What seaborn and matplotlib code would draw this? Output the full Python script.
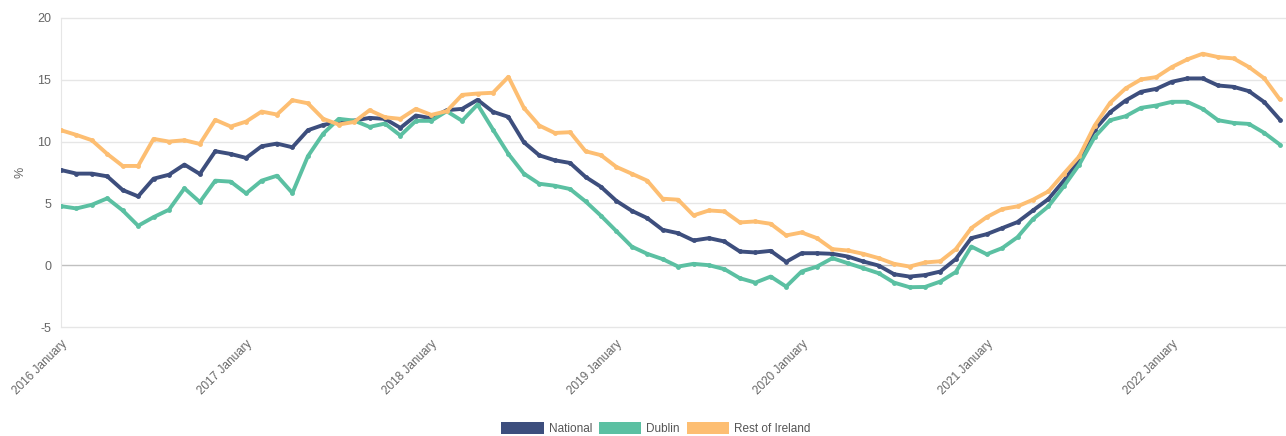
import seaborn as sns
import pandas as pd
import numpy as np
import matplotlib.pyplot as plt
from matplotlib.patches import Patch

# monthly values, Jan 2016 - Aug 2022 (%)
national = [7.70, 7.41, 7.41, 7.19, 6.08, 5.57, 7.00, 7.32, 8.14, 7.38, 9.22, 9.00,
            8.68, 9.62, 9.84, 9.54, 10.92, 11.35, 11.59, 11.70, 11.92, 11.84, 11.11, 12.11,
            11.89, 12.54, 12.65, 13.38, 12.41, 12.00, 9.95, 8.89, 8.49, 8.27, 7.14, 6.34,
            5.20, 4.40, 3.81, 2.86, 2.59, 2.00, 2.19, 1.92, 1.11, 1.03, 1.16, 0.27,
            0.97, 0.97, 0.92, 0.70, 0.30, -0.03, -0.73, -0.92, -0.80, -0.51, 0.50, 2.19,
            2.51, 3.00, 3.49, 4.43, 5.35, 6.84, 8.49, 10.97, 12.38, 13.32, 14.03, 14.27,
            14.84, 15.11, 15.11, 14.54, 14.43, 14.08, 13.19, 11.78]
dublin = [4.78, 4.59, 4.89, 5.41, 4.43, 3.19, 3.89, 4.49, 6.22, 5.11, 6.84, 6.76,
          5.81, 6.84, 7.24, 5.84, 8.81, 10.65, 11.84, 11.70, 11.19, 11.46, 10.49, 11.68,
          11.68, 12.46, 11.68, 13.00, 10.97, 9.00, 7.41, 6.59, 6.43, 6.16, 5.16, 4.00,
          2.75, 1.50, 0.92, 0.49, -0.11, 0.11, 0.00, -0.32, -1.05, -1.41, -0.92, -1.73,
          -0.51, -0.11, 0.57, 0.16, -0.24, -0.65, -1.41, -1.78, -1.76, -1.32, -0.55, 1.51,
          0.89, 1.38, 2.27, 3.73, 4.76, 6.38, 8.14, 10.38, 11.73, 12.05, 12.73, 12.92,
          13.22, 13.22, 12.65, 11.73, 11.51, 11.43, 10.70, 9.76]
rest_of_ireland = [10.92, 10.54, 10.11, 9.00, 8.03, 8.03, 10.22, 10.00, 10.11, 9.81, 11.76, 11.22,
                   11.62, 12.43, 12.19, 13.35, 13.10, 11.84, 11.38, 11.59, 12.54, 11.97, 11.84, 12.65,
                   12.16, 12.46, 13.78, 13.89, 13.95, 15.24, 12.73, 11.30, 10.70, 10.76, 9.22, 8.90,
                   7.95, 7.40, 6.84, 5.38, 5.30, 4.03, 4.43, 4.35, 3.46, 3.54, 3.35, 2.41,
                   2.65, 2.19, 1.30, 1.19, 0.92, 0.57, 0.11, -0.11, 0.22, 0.32, 1.30, 3.00,
                   3.89, 4.54, 4.76, 5.30, 5.97, 7.41, 8.81, 11.30, 13.14, 14.30, 15.03, 15.22,
                   16.03, 16.65, 17.11, 16.84, 16.73, 16.03, 15.11, 13.41]

series_names = ["National", "Dublin", "Rest of Ireland"]
colors = ["#3d4e7d", "#5bc0a2", "#fdbe72"]
tick_labels = ["2016 January", "2017 January", "2018 January", "2019 January",
               "2020 January", "2021 January", "2022 January"]

n = len(national)
df = pd.DataFrame({
    "month": np.tile(np.arange(n), 3),
    "value": national + dublin + rest_of_ireland,
    "series": np.repeat(series_names, n),
})

sns.set_style("white")
plt.rcParams["font.family"] = ["Liberation Sans", "DejaVu Sans"]
plt.rcParams["axes.unicode_minus"] = False

fig = plt.figure(figsize=(12.86, 4.36), dpi=100)
ax = fig.add_axes([61 / 1286, 1 - 327 / 436, 1 - 61 / 1286, (327 - 18) / 436])

for y in [-5, 5, 10, 15, 20]:
    ax.axhline(y, color="#e6e6e6", lw=1, zorder=0, clip_on=False)
ax.axhline(0, color="#c0c0c0", lw=1, zorder=0)

sns.lineplot(data=df, x="month", y="value", hue="series", palette=colors,
             marker="o", markersize=3.5, markeredgewidth=0, linewidth=2.8,
             legend=False, ax=ax, zorder=3)

ax.set_xlim(0, 79.4)
ax.set_ylim(-5, 20)
ax.set_yticks([-5, 0, 5, 10, 15, 20])
ax.set_xticks(np.arange(0, n, 12))
ax.set_xticklabels(tick_labels, rotation=45, ha="right", rotation_mode="anchor")
ax.tick_params(axis="x", colors="#666666", labelsize=8.5, length=4, width=0.8, pad=4)
ax.tick_params(axis="x", color="#cccccc")
ax.tick_params(axis="y", colors="#666666", labelsize=9, length=0, pad=7)
ax.set_xlabel("")
ax.set_ylabel("%", color="#666666", fontsize=9)
ax.yaxis.set_label_coords(-34 / 1225, 0.5)

for s in ["top", "right", "bottom"]:
    ax.spines[s].set_visible(False)
ax.spines["left"].set_color("#e6e6e6")

handles = [Patch(facecolor=c, edgecolor="none", label=l) for c, l in zip(colors, series_names)]
leg = fig.legend(handles=handles, loc="lower center", bbox_to_anchor=(0.51, -0.022), ncol=3,
                 frameon=False, fontsize=8.5, handlelength=3.6, handleheight=1.3,
                 handletextpad=0.4, columnspacing=0.6)
for t in leg.get_texts():
    t.set_color("#555555")

fig.savefig("out.png", dpi=100)
